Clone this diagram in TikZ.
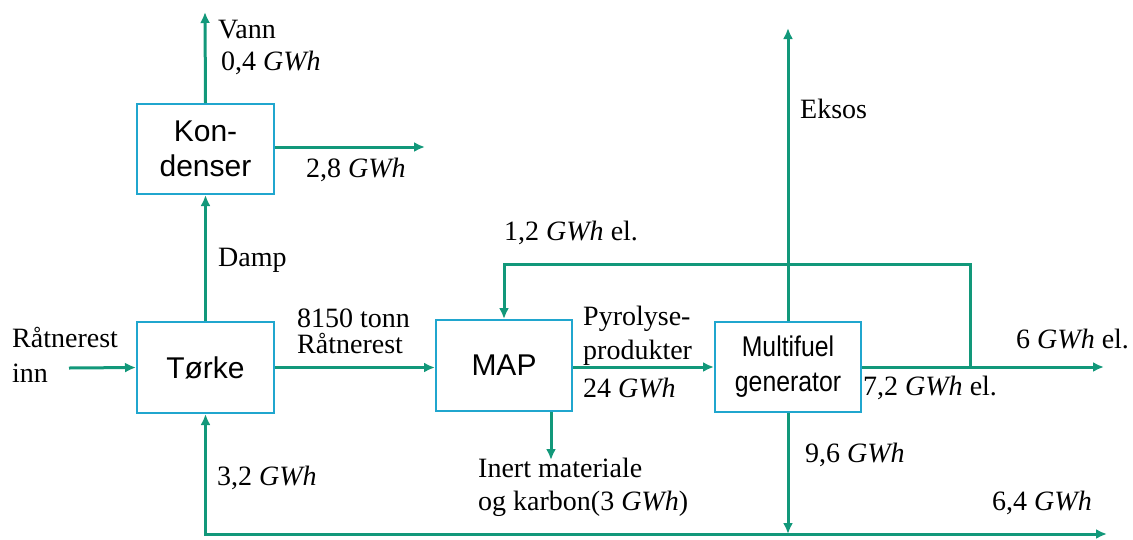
\documentclass[tikz,border=0pt]{standalone}
\usepackage{fontspec}
\setmainfont{Liberation Serif}
\setsansfont{Liberation Sans}
\newfontfamily\narrowsans[FakeStretch=0.87]{Liberation Sans}
\usepackage{tikz}
\usetikzlibrary{positioning,calc,arrows.meta}
\definecolor{flowgreen}{RGB}{18,152,122}
\definecolor{boxblue}{RGB}{32,166,206}
\tikzstyle{box} = [draw=boxblue,line width=2pt,fill=white,inner sep=0pt,align=center,font=\sffamily\fontsize{30}{35}\selectfont]
\tikzstyle{flow} = [draw=flowgreen,line width=3pt,-{Latex[length=11pt,width=10pt]}]
\tikzstyle{lbl} = [inner sep=0pt,font=\fontsize{28}{33}\selectfont]

\begin{document}
\begin{tikzpicture}[x=1pt,y=-1pt]
    \useasboundingbox (0,0) rectangle (1133,539);
    % process units
    \node[box,minimum width=137pt,minimum height=90pt] (kond) at (205.5,149) {Kon-\\denser};
    \node[box,minimum width=137pt,minimum height=91pt] (torke) at (205.5,367.5) {Tørke};
    \node[box,minimum width=136pt,minimum height=91pt] (map) at (504,365.5) {MAP};
    \node[box,minimum width=146pt,minimum height=90pt,font=\narrowsans\fontsize{28.5}{35}\selectfont] (gen) at (788,367) {Multifuel\\generator};

    % free ends
    \coordinate (inn) at (69,368);
    \coordinate (vann) at (205,12);
    \coordinate (varme) at (425,147);
    \coordinate (eksos) at (788,28);
    \coordinate (split) at (970,367);
    \coordinate (fb) at (970,264);
    \coordinate (elout) at (1104,367);
    \coordinate (inert) at (551,460);
    \coordinate (busr) at (1107,534);

    % flows
    \path [flow] (inn) -- (torke.west);
    \path [flow] (torke.north) -- (kond.south);
    \path [flow] (kond.north) -- (vann);
    \path [flow] (kond.east |- varme) -- (varme);
    \path [flow] (torke.east) -- (map.west |- torke.east);
    \path [flow] (map.east |- gen.west) -- (gen.west);
    \path [flow] (map.south -| inert) -- (inert);
    \path [flow] (gen.north) -- (eksos);
    \path [flow] (gen.east) -- (elout);
    \path [flow] (split) -- (fb) -| (map.north);
    \path [flow] (gen.south) -- (gen.south |- busr);
    \path [flow,{Latex[length=11pt,width=10pt]}-{Latex[length=11pt,width=10pt]}] (torke.south) |- (busr);

    % labels
    \node[lbl,anchor=base west] (lvann) at (218,38) {Vann};
    \node[lbl,anchor=base west] (lvannq) at (221,70) {0,4 \textit{GWh}};
    \node[lbl,anchor=base west] (lvarme) at (306,177) {2,8 \textit{GWh}};
    \node[lbl,anchor=base west] (ldamp) at (218,266) {Damp};
    \node[lbl,anchor=west,align=left,font=\fontsize{28}{35}\selectfont] (linn) at (12,354.5) {Råtnerest\\inn};
    \node[lbl,anchor=west,align=left,font=\fontsize{28}{26}\selectfont] (lslam) at (297,331) {8150 tonn\\Råtnerest};
    \node[lbl,anchor=base west] (ltork) at (217,485) {3,2 \textit{GWh}};
    \node[lbl,anchor=base west] (lfb) at (504,240) {1,2 \textit{GWh} el.};
    \node[lbl,anchor=west,align=left,font=\fontsize{28}{34}\selectfont] (lpyro) at (583,336) {Pyrolyse-\\produkter};
    \node[lbl,anchor=base west] (lpyroq) at (583,397) {24 \textit{GWh}};
    \node[lbl,anchor=west,align=left] (linert) at (478,487.5) {Inert materiale\\og karbon(3 \textit{GWh})};
    \node[lbl,anchor=base west] (leksos) at (800,118) {Eksos};
    \node[lbl,anchor=base west] (lgen) at (863,395) {7,2 \textit{GWh} el.};
    \node[lbl,anchor=base west] (lel) at (1016,348) {6 \textit{GWh} el.};
    \node[lbl,anchor=base west] (lheat) at (805,462) {9,6 \textit{GWh}};
    \node[lbl,anchor=base west] (lrest) at (992,510) {6,4 \textit{GWh}};
\end{tikzpicture}
\end{document}
